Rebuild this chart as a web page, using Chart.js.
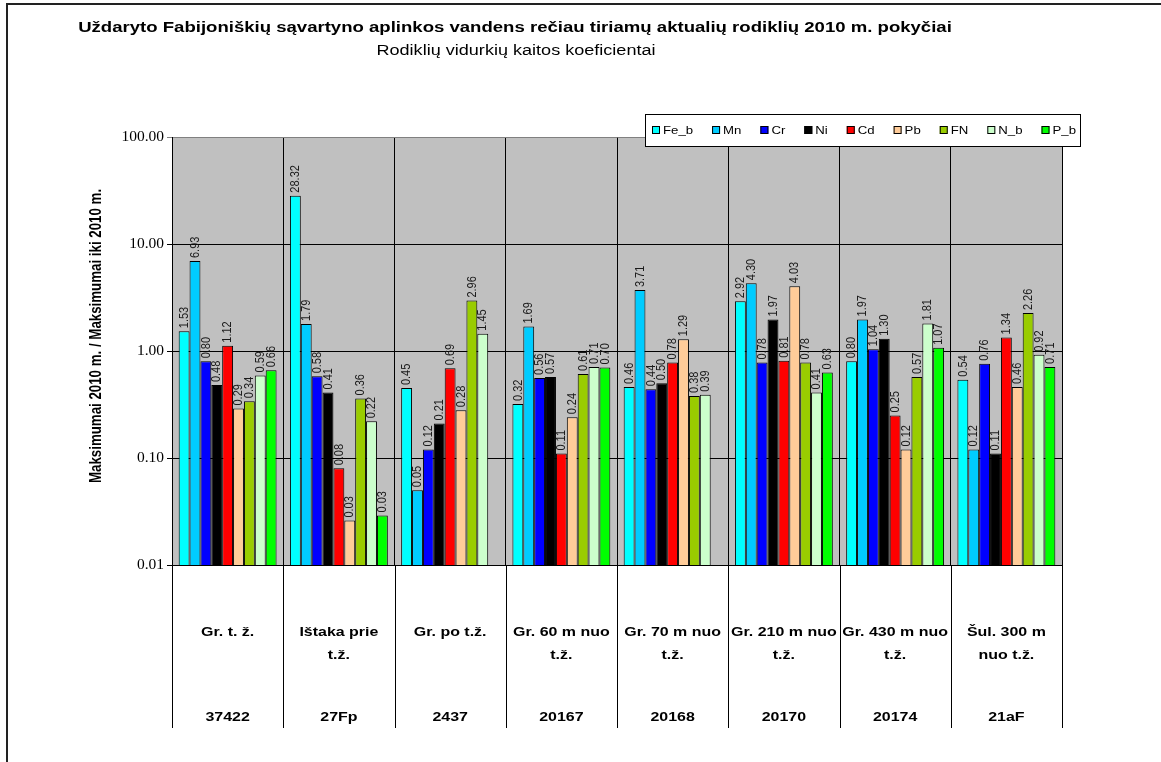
<!DOCTYPE html>
<html>
<head>
<meta charset="utf-8">
<script src="https://cdn.jsdelivr.net/npm/chart.js@4.4.1/dist/chart.umd.min.js"></script>
<style>
  html, body { margin: 0; padding: 0; background: #fff; }
  #wrap { position: relative; width: 1161px; height: 762px; }
</style>
</head>
<body>
<div id="wrap"><canvas id="c" width="1161" height="762"></canvas></div>
<script>
// Monitoring sites: description (one or two lines) and well / point code
const siteNames = [
  ['Gr. t. ž.'],
  ['Ištaka prie', 't.ž.'],
  ['Gr. po t.ž.'],
  ['Gr. 60 m nuo', 't.ž.'],
  ['Gr. 70 m nuo', 't.ž.'],
  ['Gr. 210 m nuo', 't.ž.'],
  ['Gr. 430 m nuo', 't.ž.'],
  ['Šul. 300 m', 'nuo t.ž.']
];
const siteCodes = ['37422', '27Fp', '2437', '20167', '20168', '20170', '20174', '21aF'];

// Ratio of 2010 maxima to maxima before 2010, per parameter
const feB = [1.53, 28.32, 0.45, 0.32, 0.46, 2.92, 0.80, 0.54];
const mn  = [6.93, 1.79, 0.05, 1.69, 3.71, 4.30, 1.97, 0.12];
const cr  = [0.80, 0.58, 0.12, 0.56, 0.44, 0.78, 1.04, 0.76];
const ni  = [0.48, 0.41, 0.21, 0.57, 0.50, 1.97, 1.30, 0.11];
const cd  = [1.12, 0.08, 0.69, 0.11, 0.78, 0.81, 0.25, 1.34];
const pb  = [0.29, 0.026, 0.28, 0.24, 1.29, 4.03, 0.12, 0.46];
const fn  = [0.34, 0.36, 2.96, 0.61, 0.38, 0.78, 0.57, 2.26];
const nB  = [0.59, 0.22, 1.45, 0.71, 0.39, 0.41, 1.81, 0.92];
const pB  = [0.66, 0.029, null, 0.70, null, 0.63, 1.07, 0.71];

const seriesNames = ['Fe_b', 'Mn', 'Cr', 'Ni', 'Cd', 'Pb', 'FN', 'N_b', 'P_b'];
const seriesValues = [feB, mn, cr, ni, cd, pb, fn, nB, pB];
const seriesColors = ['#00FFFF', '#00CCFF', '#0000FF', '#000000', '#FF0000', '#FFCC99', '#99CC00', '#CCFFCC', '#00FF00'];

const yTicks = [0.01, 0.1, 1, 10, 100];

const titleText = 'Uždaryto Fabijoniškių sąvartyno aplinkos vandens rečiau tiriamų aktualių rodiklių 2010 m. pokyčiai';
const subtitleText = 'Rodiklių vidurkių kaitos koeficientai';
const yTitleText = 'Maksimumai 2010 m. / Maksimumai iki 2010 m.';

const SANS = "'Liberation Sans', Arial, sans-serif";
const SERIF = "'Liberation Serif', 'Times New Roman', serif";
const SX = 1.2; // horizontal widening of the lettering

function wideText(ctx, txt, x, y, align, sx) {
  ctx.save();
  ctx.translate(x, y);
  ctx.scale(sx || SX, 1);
  ctx.textAlign = align;
  ctx.fillText(txt, 0, 0);
  ctx.restore();
}

// Gray plot background
const plotBackground = {
  id: 'plotBackground',
  beforeDraw(chart) {
    const { ctx, chartArea: a } = chart;
    ctx.save();
    ctx.fillStyle = '#C0C0C0';
    ctx.fillRect(a.left, a.top, a.right - a.left, a.bottom - a.top);
    ctx.restore();
  }
};

// Vertical value labels above the bars
const barValueLabels = {
  id: 'barValueLabels',
  afterDatasetsDraw(chart) {
    const ctx = chart.ctx;
    ctx.save();
    ctx.font = '11px ' + SANS;
    ctx.fillStyle = '#1a1a1a';
    ctx.textBaseline = 'middle';
    ctx.textAlign = 'left';
    chart.data.datasets.forEach((ds, di) => {
      const meta = chart.getDatasetMeta(di);
      meta.data.forEach((el, i) => {
        const v = ds.data[i];
        if (v === null || v === undefined) return;
        ctx.save();
        ctx.translate(el.x, el.y - 3);
        ctx.rotate(-Math.PI / 2);
        ctx.scale(1, SX);
        ctx.fillText(v.toFixed(2), 0, 0);
        ctx.restore();
      });
    });
    ctx.restore();
  }
};

// Titles, legend box, two-level category table and outer frame
const chartDecor = {
  id: 'chartDecor',
  afterDraw(chart) {
    const { ctx, chartArea: a } = chart;
    const xs = chart.scales.x;
    ctx.save();

    // outer frame
    ctx.strokeStyle = '#222';
    ctx.lineWidth = 2;
    ctx.beginPath();
    ctx.moveTo(7, 762);
    ctx.lineTo(7, 4);
    ctx.lineTo(1161, 4);
    ctx.stroke();

    // titles
    ctx.fillStyle = '#000';
    ctx.textBaseline = 'middle';
    ctx.font = 'bold 14.5px ' + SANS;
    wideText(ctx, titleText, 515, 28, 'center', 1.28);
    ctx.font = '14px ' + SANS;
    wideText(ctx, subtitleText, 516, 51, 'center', 1.29);

    // y axis title
    ctx.save();
    ctx.translate(97, 336);
    ctx.rotate(-Math.PI / 2);
    ctx.scale(1, SX);
    ctx.font = 'bold 13.3px ' + SANS;
    ctx.textAlign = 'center';
    ctx.fillText(yTitleText, 0, 0);
    ctx.restore();

    // category table below the plot
    const n = chart.data.labels.length;
    const step = (a.right - a.left) / n;
    ctx.strokeStyle = '#000';
    ctx.lineWidth = 1;
    for (let i = 0; i <= n; i++) {
      const x = Math.round(a.left + i * step) + 0.5;
      ctx.beginPath();
      ctx.moveTo(x, a.bottom);
      ctx.lineTo(x, 728);
      ctx.stroke();
    }
    ctx.font = 'bold 13.3px ' + SANS;
    ctx.fillStyle = '#000';
    siteNames.forEach((lines, i) => {
      const cx = xs.getPixelForValue(i);
      lines.forEach((ln, k) => wideText(ctx, ln, cx, 632 + k * 23, 'center'));
      wideText(ctx, siteCodes[i], cx, 717, 'center');
    });

    // legend box
    const lx0 = 645, ly0 = 114, lx1 = 1080, ly1 = 146;
    ctx.fillStyle = '#fff';
    ctx.fillRect(lx0, ly0, lx1 - lx0, ly1 - ly0);
    ctx.strokeStyle = '#000';
    ctx.lineWidth = 1;
    ctx.strokeRect(lx0 + 0.5, ly0 + 0.5, lx1 - lx0, ly1 - ly0);
    ctx.font = '11px ' + SANS;
    const sq = 8, sqGap = 3;
    const widths = chart.data.datasets.map(ds => ctx.measureText(ds.label).width * SX);
    const startX = 652, endX = 1076;
    const used = widths.reduce((s, w) => s + sq + sqGap + w, 0);
    const gap = (endX - startX - used) / (widths.length - 1);
    let x = startX;
    const ly = 130;
    chart.data.datasets.forEach((ds, i) => {
      ctx.fillStyle = ds.backgroundColor;
      ctx.fillRect(x, ly - sq / 2, sq, sq);
      ctx.strokeStyle = '#000';
      ctx.strokeRect(x + 0.5, ly - sq / 2 + 0.5, sq - 1, sq - 1);
      ctx.fillStyle = '#000';
      ctx.textBaseline = 'middle';
      wideText(ctx, ds.label, x + sq + sqGap, ly + 1, 'left');
      x += sq + sqGap + widths[i] + gap;
    });

    ctx.restore();
  }
};

new Chart(document.getElementById('c'), {
  type: 'bar',
  data: {
    labels: siteCodes,
    datasets: seriesNames.map((name, i) => ({
      label: name,
      data: seriesValues[i],
      backgroundColor: seriesColors[i],
      borderColor: '#000',
      borderWidth: 1,
      categoryPercentage: 0.88,
      barPercentage: 1.0
    }))
  },
  options: {
    responsive: false,
    animation: false,
    layout: { padding: { left: 0, top: 137, right: 99, bottom: 197 } },
    plugins: {
      legend: { display: false },
      title: { display: false },
      tooltip: { enabled: false }
    },
    scales: {
      x: {
        grid: {
          offset: true,
          drawTicks: false,
          color: (c) => (c.index === siteCodes.length ? '#808080' : '#000'),
          lineWidth: 1
        },
        border: { display: true, color: '#000', width: 1 },
        ticks: { display: false },
        afterFit(s) { s.height = 0; }
      },
      y: {
        type: 'logarithmic',
        min: 0.01,
        max: 100,
        afterBuildTicks(s) { s.ticks = yTicks.map(v => ({ value: v })); },
        ticks: {
          callback: (v) => Number(v).toFixed(2),
          font: { family: SERIF, size: 15.5 },
          color: '#000',
          padding: 3
        },
        grid: {
          color: (c) => (c.tick && c.tick.value === 100 ? '#808080' : '#000'),
          lineWidth: 1,
          drawTicks: true,
          tickLength: 5
        },
        border: { display: true, color: '#000', width: 1 },
        afterFit(s) { s.width = 172; }
      }
    }
  },
  plugins: [plotBackground, barValueLabels, chartDecor]
});
</script>
</body>
</html>
